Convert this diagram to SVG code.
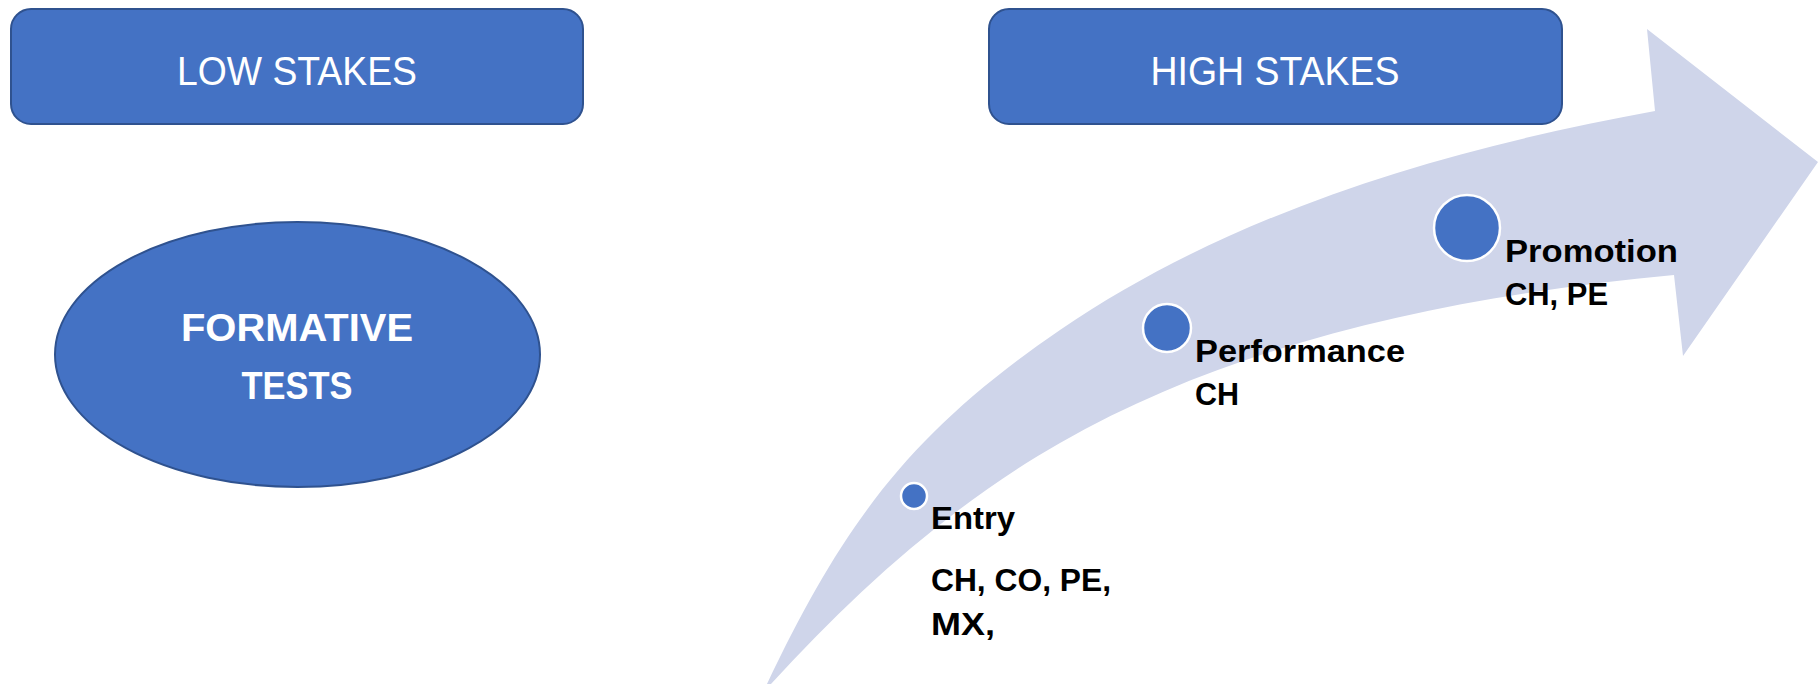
<svg xmlns="http://www.w3.org/2000/svg" width="1818" height="684" viewBox="0 0 1818 684">
<style>
.box{fill:#4472C4;stroke:#2F528F;stroke-width:2}
.hdr{font-family:"Liberation Sans",Arial,sans-serif;font-size:40px;fill:#FFFFFF;text-anchor:middle}
.big{font-family:"Liberation Sans",Arial,sans-serif;font-size:39px;font-weight:bold;fill:#FFFFFF;text-anchor:middle}
.dot{fill:#4472C4;stroke:#FFFFFF;stroke-width:2.5}
.lbl{font-family:"Liberation Sans",Arial,sans-serif;font-size:32px;font-weight:bold;fill:#000000}
</style>
<rect width="1818" height="684" fill="#FFFFFF"/>
<g id="connectors">
<path id="arrow" fill="#CFD5EA" d="M767,684 C844,522 911,432 1060,330 C1234,211 1447,149 1655,111 L1647,29 L1818,162 L1683,356 L1674,275 C1463,295 1244,338 1060,443 C951,505 855,592 771,684 Z"/>
</g>
<g id="low-stakes">
<rect class="box" x="11" y="9" width="572" height="115" rx="20" ry="20"/>
<text class="hdr" x="297" y="85" textLength="240" lengthAdjust="spacingAndGlyphs">LOW STAKES</text>
</g>
<g id="high-stakes">
<rect class="box" x="989" y="9" width="573" height="115" rx="20" ry="20"/>
<text class="hdr" x="1275" y="85" textLength="249" lengthAdjust="spacingAndGlyphs">HIGH STAKES</text>
</g>
<g id="formative-tests">
<ellipse class="box" cx="297.5" cy="354.5" rx="242.5" ry="132.5"/>
<text class="big" x="297" y="341" textLength="232" lengthAdjust="spacingAndGlyphs">FORMATIVE</text>
<text class="big" x="297" y="399" textLength="111" lengthAdjust="spacingAndGlyphs">TESTS</text>
</g>
<g id="entry">
<circle class="dot" cx="914" cy="496" r="13"/>
<text class="lbl" x="931" y="529" textLength="84" lengthAdjust="spacingAndGlyphs">Entry</text>
<text class="lbl" x="931" y="591" textLength="180" lengthAdjust="spacingAndGlyphs">CH, CO, PE,</text>
<text class="lbl" x="931" y="635" textLength="64" lengthAdjust="spacingAndGlyphs">MX,</text>
</g>
<g id="performance">
<circle class="dot" cx="1167" cy="328" r="24"/>
<text class="lbl" x="1195" y="362" textLength="210" lengthAdjust="spacingAndGlyphs">Performance</text>
<text class="lbl" x="1195" y="405" textLength="44" lengthAdjust="spacingAndGlyphs">CH</text>
</g>
<g id="promotion">
<circle class="dot" cx="1467" cy="228" r="33"/>
<text class="lbl" x="1505" y="262" textLength="173" lengthAdjust="spacingAndGlyphs">Promotion</text>
<text class="lbl" x="1505" y="305" textLength="103" lengthAdjust="spacingAndGlyphs">CH, PE</text>
</g>
</svg>
